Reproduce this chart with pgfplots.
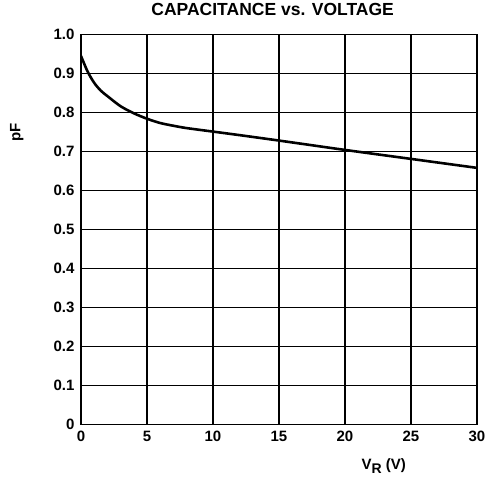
\documentclass[border=0pt]{standalone}
\usepackage{fontspec}
\setmainfont{Liberation Sans}
\usepackage{pgfplots}
\pgfplotsset{compat=1.18}

\begin{document}
\begin{tikzpicture}
\begin{axis}[
    scale only axis,
    width=396bp,
    height=390bp,
    xmin=0, xmax=30,
    ymin=0, ymax=1,
    xtick={0,5,...,30},
    ytick={0,0.1,...,1.0},
    yticklabels={0,0.1,0.2,0.3,0.4,0.5,0.6,0.7,0.8,0.9,1.0},
    /pgf/number format/assume math mode=true,
    tick style={draw=none},
    grid=major,
    grid style={black, line width=1.3pt},
    axis line style={black, line width=1.9pt},
    font=\fontsize{15bp}{18bp}\selectfont\bfseries,
    xticklabel style={yshift=-3bp},
    yticklabel style={xshift=-3bp},
    title={CAPACITANCE vs. VOLTAGE},
    title style={at={(axis description cs:0.484,1)}, anchor=center, yshift=19bp,
        font=\fontsize{17.5bp}{20bp}\selectfont\bfseries},
    xlabel={V\raisebox{-4bp}{\fontsize{14bp}{14bp}\selectfont R}\hspace{4bp}(V)},
    xlabel style={at={(axis description cs:0.7,0)}, anchor=base west, yshift=-45bp},
    ylabel={pF},
    ylabel style={at={(axis description cs:-0.162,0.749)}, anchor=center},
]
\addplot[black, line width=2.6pt, smooth, tension=0.5] coordinates {
    (0,0.945) (0.5,0.905) (1,0.876) (1.5,0.856) (2,0.842) (3,0.816)
    (4,0.798) (5,0.784) (6,0.773) (7,0.766) (8,0.760) (10,0.751)
    (12,0.742) (15,0.728) (20,0.704) (25,0.681) (30,0.658)
};
\coordinate (o) at (rel axis cs:0,0);
\end{axis}
\path (o) ++(-81bp,-63bp) rectangle ++(495bp,485bp);
\end{tikzpicture}
\end{document}
